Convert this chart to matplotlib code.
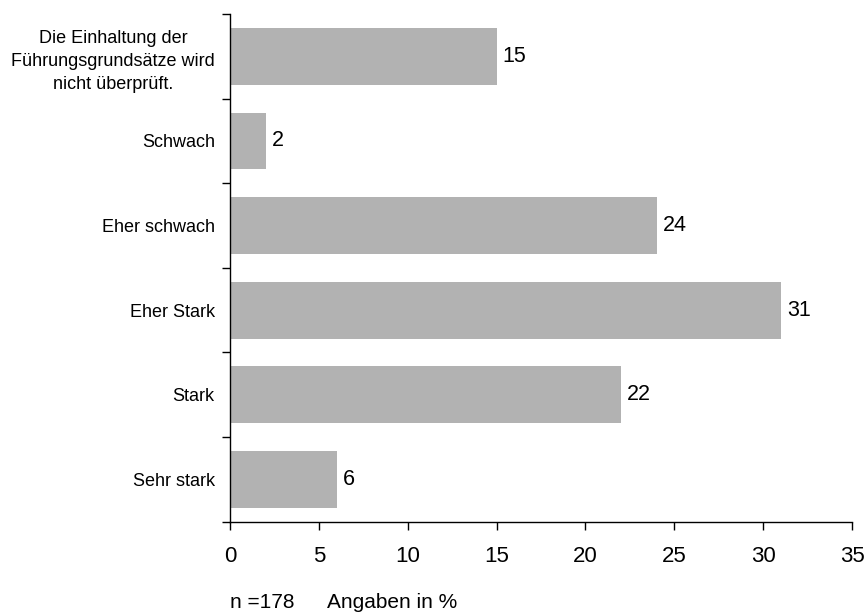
import matplotlib
matplotlib.use("Agg")
import matplotlib.pyplot as plt
import numpy as np

plt.rcParams['font.family'] = ['Liberation Sans', 'DejaVu Sans']

categories = [
    "Die Einhaltung der\nFührungsgrundsätze wird\nnicht überprüft.",
    "Schwach",
    "Eher schwach",
    "Eher Stark",
    "Stark",
    "Sehr stark",
]
values = [15, 2, 24, 31, 22, 6]
x_ticks = [0, 5, 10, 15, 20, 25, 30, 35]
footer_n = "n =178"
footer_unit = "Angaben in %"

fig = plt.figure(figsize=(8.67, 6.15), dpi=100)
ax = fig.add_axes([0.2653, 0.1517, 0.9827 - 0.2653, 0.9772 - 0.1517])

pos = np.arange(len(categories))
ax.barh(pos, values, height=0.67, color="#b2b2b2", edgecolor="none", zorder=2)

for p, v in zip(pos, values):
    ax.text(v + 0.35, p, str(v), va="center", ha="left", fontsize=15.5, color="black")

ax.set_xlim(0, 35)
ax.set_ylim(len(categories) - 0.5, -0.5)

ax.set_xticks(x_ticks)
ax.set_xticklabels([str(t) for t in x_ticks], fontsize=16)
ax.tick_params(axis="x", direction="out", length=6, width=1, pad=11.5, color="black")

# boundaries between categories carry the tick marks, labels sit at centers
ax.set_yticks(np.arange(len(categories) + 1) - 0.5)
ax.set_yticklabels([])
ax.set_yticks(pos, minor=True)
ax.set_yticklabels(categories, minor=True, fontsize=13, multialignment="center",
                   linespacing=1.45)
ax.tick_params(axis="y", which="major", direction="out", length=6, width=1)
ax.tick_params(axis="y", which="minor", length=0, pad=11)

for s in ["top", "right"]:
    ax.spines[s].set_visible(False)
for s in ["left", "bottom"]:
    ax.spines[s].set_linewidth(1)
    ax.spines[s].set_color("black")

fig.text(230 / 867, 1 - 603 / 615, footer_n, fontsize=15, va="center", ha="left")
fig.text(327 / 867, 1 - 603 / 615, footer_unit, fontsize=15, va="center", ha="left")

fig.savefig("out.png", dpi=100)
